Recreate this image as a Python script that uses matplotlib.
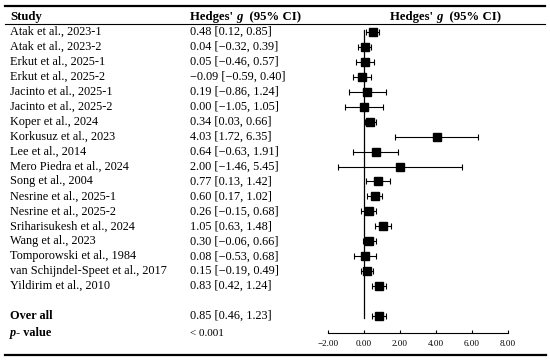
import matplotlib
matplotlib.use("Agg")
import matplotlib.pyplot as plt
from matplotlib.lines import Line2D
from matplotlib.transforms import blended_transform_factory

plt.rcParams['font.family'] = ['Liberation Serif', 'DejaVu Serif']

studies = ["Atak et al., 2023-1", "Atak et al., 2023-2", "Erkut et al., 2025-1",
           "Erkut et al., 2025-2", "Jacinto et al., 2025-1", "Jacinto et al., 2025-2",
           "Koper et al., 2024", "Korkusuz et al., 2023", "Lee et al., 2014",
           "Mero Piedra et al., 2024", "Song et al., 2004", "Nesrine et al., 2025-1",
           "Nesrine et al., 2025-2", "Sriharisukesh et al., 2024", "Wang et al., 2023",
           "Tomporowski et al., 1984", "van Schijndel-Speet et al., 2017",
           "Yildirim et al., 2010"]
g = [0.48, 0.04, 0.05, -0.09, 0.19, 0.00, 0.34, 4.03, 0.64, 2.00,
     0.77, 0.60, 0.26, 1.05, 0.30, 0.08, 0.15, 0.83]
lo = [0.12, -0.32, -0.46, -0.59, -0.86, -1.05, 0.03, 1.72, -0.63, -1.46,
      0.13, 0.17, -0.15, 0.63, -0.06, -0.53, -0.19, 0.42]
hi = [0.85, 0.39, 0.57, 0.40, 1.24, 1.05, 0.66, 6.35, 1.91, 5.45,
      1.42, 1.02, 0.68, 1.48, 0.66, 0.68, 0.49, 1.24]
overall = (0.85, 0.46, 1.23)
p_text = "< 0.001"
xticks = [-2, 0, 2, 4, 6, 8]

W, H = 550, 363
fig = plt.figure(figsize=(W / 100, H / 100), dpi=100)

# forest panel, placed in pixel terms
px_l, px_r, px_t, px_b = 328, 508, 24, 333
ax = fig.add_axes([px_l / W, 1 - px_b / H, (px_r - px_l) / W, (px_b - px_t) / H])
row0, step = 32, 14.95
ax.set_xlim(-2, 8)
ax.set_ylim((px_b - row0) / step, (px_t - row0) / step)
ax.patch.set_alpha(0)
for s in ['top', 'right', 'left']:
    ax.spines[s].set_visible(False)
ax.spines['bottom'].set_linewidth(0.8)
ax.set_yticks([])
ax.set_xticks(xticks)
ax.set_xticklabels([f"{t:.2f}".replace('-', '\u2212') for t in xticks], fontsize=6.6)
ax.tick_params(axis='x', direction='in', length=2.5, width=0.8, pad=5)

rows = list(range(len(studies)))
over_row = len(studies) + 1
ax.plot([0, 0], [-0.13, over_row + 0.1], color='black', lw=0.9)

def err(x, y, l, h):
    ax.errorbar([x], [y], xerr=[[x - l], [h - x]], fmt='s', color='black',
                ms=5.2, elinewidth=0.8, capsize=2.3, capthick=0.8)

for r, gi, li, hi_ in zip(rows, g, lo, hi):
    err(gi, r, li, hi_)
err(overall[0], over_row, overall[1], overall[2])

tr = blended_transform_factory(fig.transFigure, ax.transData)
fs = 8.8
x_study = 10 / W
x_val = 190 / W

def fmt(a, b, c):
    return f"{a:.2f} [{b:.2f}, {c:.2f}]".replace('-', '\u2212')

for r, name, gi, li, hi_ in zip(rows, studies, g, lo, hi):
    fig.text(x_study, r, name, transform=tr, fontsize=fs, va='center', ha='left')
    fig.text(x_val, r, fmt(gi, li, hi_), transform=tr, fontsize=fs, va='center', ha='left')

fig.text(x_study, over_row, "Over all", transform=tr, fontsize=fs, va='center', weight='bold')
fig.text(x_val, over_row, fmt(*overall), transform=tr, fontsize=fs, va='center')
p_row = (333 - row0) / step
fig.text(x_val, p_row, p_text, transform=tr, fontsize=fs - 0.8, va='center')

def rich(x, y, parts, transform, size):
    prev = fig.text(x, y, parts[0][0], transform=transform, fontsize=size,
                    va='center', ha='left', weight=parts[0][2], style=parts[0][1])
    for txt, st, wt in parts[1:]:
        prev = ax.annotate(txt, xy=(1, 0), xycoords=prev, va='bottom', ha='left',
                           fontsize=size, weight=wt, style=st, annotation_clip=False)
    return prev

rich(x_study, p_row, [("p", 'italic', 'bold'), ("- value", 'normal', 'bold')], tr, fs)

head_row = (17 - row0) / step
fig.text(x_study, head_row, "Study", transform=tr, fontsize=9.2, va='center', weight='bold')
hdr = [("Hedges' ", 'normal', 'bold'), ("g", 'italic', 'bold'), ("  (95% CI)", 'normal', 'bold')]
rich(x_val, head_row, hdr, tr, 9.2)
rich(390 / W, head_row, hdr, tr, 9.2)

# table rules
fig.add_artist(Line2D([5 / W, 545 / W], [1 - 6 / H, 1 - 6 / H], color='black', lw=1.6))
fig.add_artist(Line2D([5 / W, 545 / W], [1 - 24 / H, 1 - 24 / H], color='black', lw=0.8))
fig.add_artist(Line2D([5 / W, 546 / W], [1 - 355 / H, 1 - 355 / H], color='black', lw=1.6))

fig.savefig("out.png", dpi=100)
